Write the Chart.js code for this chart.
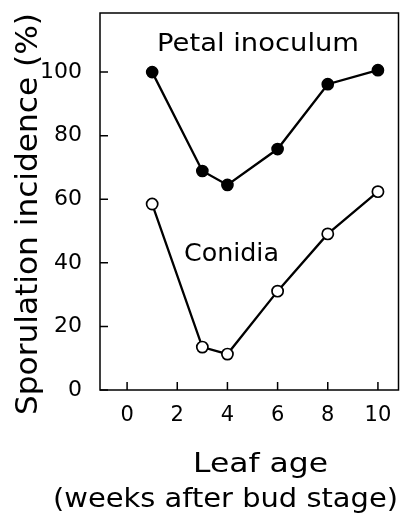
<!DOCTYPE html>
<html>
<head>
<meta charset="utf-8">
<script src="https://cdn.jsdelivr.net/npm/chart.js@4.4.1/dist/chart.umd.min.js"></script>
<style>
  html, body { margin: 0; padding: 0; background: #fff; }
  #wrap { width: 400px; height: 514px; }
</style>
</head>
<body>
<div id="wrap"><canvas id="c" width="400" height="514"></canvas></div>
<script>
// ---- data ----
const weeks = [1, 3, 4, 6, 8, 10];
const petalInoculum = [100, 68.9, 64.5, 75.8, 96.2, 100.6];
const conidia = [58.5, 13.5, 11.3, 31.1, 49.1, 62.4];
const xTickValues = [0, 2, 4, 6, 8, 10];
const yTickValues = [0, 20, 40, 60, 80, 100];
const seriesNames = ["Petal inoculum", "Conidia"];
const xTitle1 = "Leaf age";
const xTitle2 = "(weeks after bud stage)";
const yTitle = "Sporulation incidence (%)";

const FONT = '"DejaVu Sans", sans-serif';

function fitText(ctx, text, x, y, width, size, rotate) {
  ctx.save();
  ctx.font = size + 'px ' + FONT;
  const m = ctx.measureText(text).width;
  ctx.translate(x, y);
  if (rotate) ctx.rotate(-Math.PI / 2);
  ctx.scale(width / m, 1);
  ctx.textAlign = 'center';
  ctx.textBaseline = 'alphabetic';
  ctx.fillStyle = '#000';
  ctx.fillText(text, 0, 0);
  ctx.restore();
}

const decor = {
  id: 'decor',
  afterDraw(chart) {
    const ctx = chart.ctx;
    const a = chart.chartArea;
    const xs = chart.scales.x, ys = chart.scales.y;
    ctx.save();
    ctx.strokeStyle = '#000';
    ctx.lineWidth = 1.5;
    ctx.strokeRect(a.left, a.top, a.right - a.left, a.bottom - a.top);
    // inward ticks
    ctx.beginPath();
    yTickValues.forEach(v => {
      const py = ys.getPixelForValue(v);
      ctx.moveTo(a.left, py); ctx.lineTo(a.left + 8, py);
    });
    xTickValues.forEach(v => {
      const px = xs.getPixelForValue(v);
      ctx.moveTo(px, a.bottom); ctx.lineTo(px, a.bottom - 8);
    });
    ctx.stroke();
    ctx.restore();
    // series labels placed in data coordinates
    fitText(ctx, seriesNames[0], xs.getPixelForValue(5.22), ys.getPixelForValue(106.5), 202, 25, false);
    fitText(ctx, seriesNames[1], xs.getPixelForValue(4.16), ys.getPixelForValue(40.6), 95, 24, false);
    // axis titles
    fitText(ctx, xTitle1, 260.5, 472, 135, 27, false);
    fitText(ctx, xTitle2, 225.5, 507, 345, 26, false);
    fitText(ctx, yTitle, 37, 214, 402, 30, true);
  }
};

const toPts = (xs, ys) => xs.map((x, i) => ({ x: x, y: ys[i] }));
const noPad = s => { s.paddingTop = 0; s.paddingBottom = 0; s.paddingLeft = 0; s.paddingRight = 0; };

new Chart(document.getElementById('c'), {
  type: 'scatter',
  data: {
    datasets: [
      {
        label: seriesNames[0],
        data: toPts(weeks, petalInoculum),
        showLine: true,
        borderColor: '#000',
        backgroundColor: '#000',
        borderWidth: 2.3,
        pointRadius: 5.6,
        pointBorderWidth: 1.5,
        pointBorderColor: '#000',
        pointBackgroundColor: '#000'
      },
      {
        label: seriesNames[1],
        data: toPts(weeks, conidia),
        showLine: true,
        borderColor: '#000',
        backgroundColor: '#fff',
        borderWidth: 2.3,
        pointRadius: 5.6,
        pointBorderWidth: 1.7,
        pointBorderColor: '#000',
        pointBackgroundColor: '#fff'
      }
    ]
  },
  options: {
    responsive: false,
    animation: false,
    devicePixelRatio: 1,
    layout: { autoPadding: false, padding: { top: 13, right: 1.5, left: 0, bottom: 0 } },
    plugins: { legend: { display: false }, tooltip: { enabled: false } },
    scales: {
      x: {
        type: 'linear',
        min: -1.08,
        max: 10.82,
        afterBuildTicks: s => { s.ticks = xTickValues.map(v => ({ value: v })); },
        afterFit: s => { s.height = 124; noPad(s); },
        grid: { display: false, drawTicks: false },
        border: { display: false },
        ticks: { color: '#000', font: { family: FONT, size: 21 }, padding: 13, maxRotation: 0 }
      },
      y: {
        type: 'linear',
        min: 0,
        max: 118.6,
        afterBuildTicks: s => { s.ticks = yTickValues.map(v => ({ value: v })); },
        afterFit: s => { s.width = 100; noPad(s); },
        grid: { display: false, drawTicks: false },
        border: { display: false },
        ticks: { color: '#000', font: { family: FONT, size: 22 }, padding: 18 }
      }
    }
  },
  plugins: [decor]
});
</script>
</body>
</html>
